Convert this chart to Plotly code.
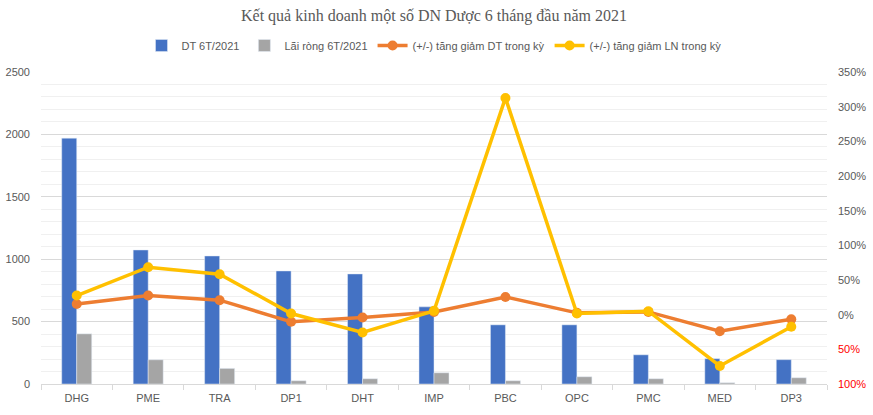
import plotly.graph_objects as go

categories = ["DHG", "PME", "TRA", "DP1", "DHT", "IMP", "PBC", "OPC", "PMC", "MED", "DP3"]
dt_6t = [1970, 1074, 1026, 906, 882, 618, 474, 474, 234, 203, 195]
lai_rong = [402, 194, 125, 26, 42, 90, 26, 58, 42, 10, 50]
dt_change = [15.5, 27.6, 20.9, -10.3, -4.0, 4.0, 25.6, 2.6, 4.0, -23.8, -6.5]
ln_change = [27.6, 68.4, 58.3, 1.7, -25.6, 5.5, 312.6, 1.7, 5.0, -74.0, -17.5]

right_vals = [-100, -50, 0, 50, 100, 150, 200, 250, 300, 350]
right_text = ['<span style="color:#FF0000">100%</span>', '<span style="color:#FF0000">50%</span>',
              "0%", "50%", "100%", "150%", "200%", "250%", "300%", "350%"]

fig = go.Figure()
fig.add_trace(go.Bar(name="DT 6T/2021", x=categories, y=dt_6t, marker_color="#4472C4"))
fig.add_trace(go.Bar(name="Lãi ròng 6T/2021", x=categories, y=lai_rong, marker_color="#A5A5A5"))
fig.add_trace(go.Scatter(name="(+/-) tăng giảm DT trong kỳ", x=categories, y=dt_change, yaxis="y2",
                         mode="lines+markers", line=dict(color="#ED7D31", width=3.5),
                         marker=dict(size=10, color="#ED7D31")))
fig.add_trace(go.Scatter(name="(+/-) tăng giảm LN trong kỳ", x=categories, y=ln_change, yaxis="y2",
                         mode="lines+markers", line=dict(color="#FFC000", width=3.5),
                         marker=dict(size=10, color="#FFC000")))

fig.update_layout(
    width=873, height=415,
    margin=dict(l=41, r=46, t=72, b=31, autoexpand=False),
    paper_bgcolor="white", plot_bgcolor="white",
    barmode="group", bargap=0.58, bargroupgap=0,
    font=dict(family="Liberation Sans, Arial, sans-serif", size=11, color="#595959"),
    title=dict(text="Kết quả kinh doanh một số DN Dược 6 tháng đầu năm 2021",
               x=0.5, xanchor="center", xref="paper", y=0.964, yref="container", yanchor="middle",
               font=dict(family="Liberation Serif, Times New Roman, serif", size=16, color="#595959")),
    legend=dict(orientation="h", x=0.5, xanchor="center", y=1.085, yanchor="middle",
                font=dict(size=11, color="#595959"), traceorder="normal"),
    showlegend=True,
    xaxis=dict(type="category", range=[-0.5, len(categories) - 0.5], showline=True,
               linecolor="#d9d9d9", linewidth=1,
               ticks="outside", tickson="boundaries", ticklen=5, tickcolor="#d9d9d9",
               ticklabelstandoff=4,
               tickfont=dict(size=11, color="#595959"), showgrid=False, automargin=False),
    yaxis=dict(range=[0, 2500], dtick=500, tick0=0, showgrid=True, gridcolor="#d9d9d9",
               minor=dict(dtick=100, showgrid=True, gridcolor="#f0f0f0"),
               zeroline=False, showline=False, ticks="", ticklabelstandoff=10, automargin=False,
               tickfont=dict(size=11, color="#595959")),
    yaxis2=dict(range=[-100, 350], overlaying="y", side="right", showgrid=False, zeroline=False,
                tickmode="array", tickvals=right_vals, ticktext=right_text, automargin=False,
                ticks="", ticklabelstandoff=10, showline=False,
                tickfont=dict(size=11, color="#595959")),
)

fig.write_html("out.html", config={"displayModeBar": False},
               post_script="document.body.style.margin='0';document.body.style.overflow='hidden';")
